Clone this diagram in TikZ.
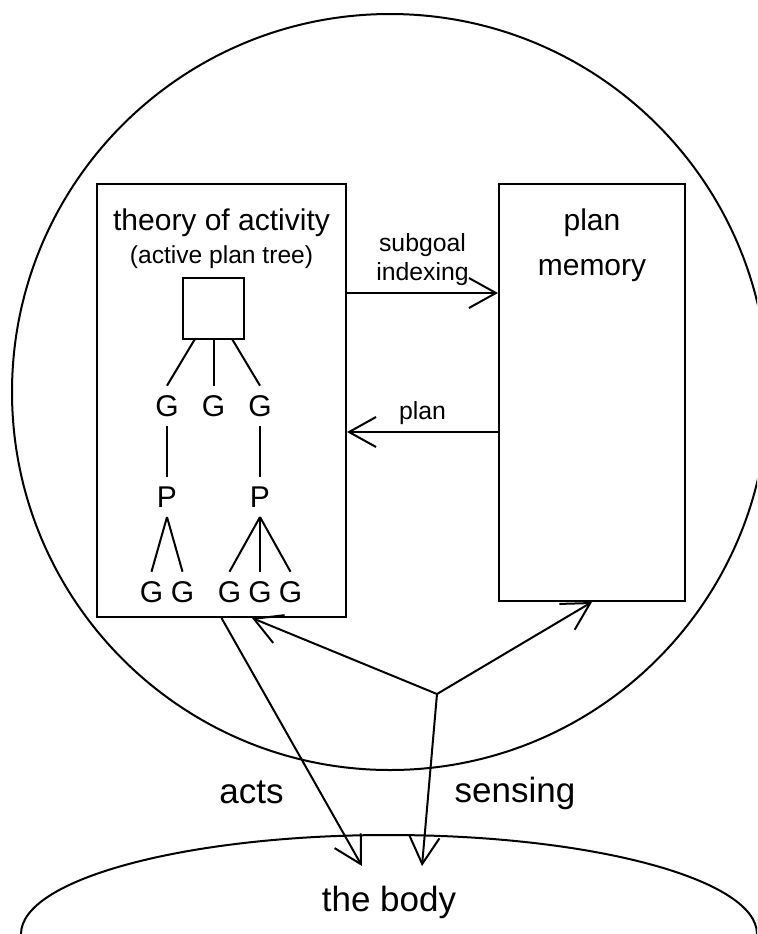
\documentclass[tikz,border=0pt]{standalone}
\usepackage{fontspec}
\setmainfont{Liberation Sans}
\usepackage{tikz}
\usetikzlibrary{arrows.meta,shapes.geometric}

\begin{document}
\begin{tikzpicture}[x=0.5pt,y=-0.5pt,line width=1pt,
  >={Straight Barb[length=13.5pt,width=15pt]},
  plan box/.style={rectangle,draw,inner sep=0pt},
  goal node/.style={inner sep=4.35pt,font=\fontsize{15}{18}\selectfont},
  head text/.style={anchor=base,inner sep=0pt,font=\fontsize{15}{18}\selectfont},
  small text/.style={align=center,font=\fontsize{12.4}{14.5}\selectfont},
  big text/.style={anchor=base,inner sep=0pt,font=\fontsize{17.5}{21}\selectfont}]

  \useasboundingbox (0,0) rectangle (757,934);
  \clip (0,0) rectangle (757,934);

  % agent and body
  \node[circle,draw,minimum size=378pt,inner sep=0pt] (agent) at (390,392) {};
  \node[ellipse,draw,minimum width=368pt,minimum height=99pt,inner sep=0pt] (body) at (389,934) {};
  \node[big text] (bodytxt) at (389,911) {the body};

  % the two boxes
  \node[plan box,minimum width=124.5pt,minimum height=216.5pt] (toa) at (221.5,400.5) {};
  \node[plan box,minimum width=93pt,minimum height=208.5pt] (pm) at (592,392.5) {};

  \node[head text] (toatitle) at (221.5,230) {theory of activity};
  \node[head text,font=\fontsize{12.3}{14}\selectfont] (toasub) at (221.5,263) {(active plan tree)};
  \node[head text] (pmtitle) at (592,230) {plan};
  \node[head text] (pmsub) at (592,275) {memory};

  % plan tree
  \node[draw,minimum size=30.5pt,inner sep=0pt] (root) at (213.5,308) {};
  \node[goal node] (g2) [node distance=49pt,below of=root] {G};
  \node[goal node] (g1) [node distance=23.25pt,left of=g2] {G};
  \node[goal node] (g3) [node distance=23.25pt,right of=g2] {G};
  \node[goal node] (p1) [node distance=45.5pt,below of=g1] {P};
  \node[goal node] (p2) [node distance=45.5pt,below of=g3] {P};
  \node[goal node] (b1) [node distance=47.5pt,below of=p1,xshift=-7.75pt] {G};
  \node[goal node] (b2) [node distance=47.5pt,below of=p1,xshift=7.75pt] {G};
  \node[goal node] (b4) [node distance=47.5pt,below of=p2] {G};
  \node[goal node] (b3) [node distance=15.25pt,left of=b4] {G};
  \node[goal node] (b5) [node distance=15.25pt,right of=b4] {G};

  \draw (root) -- (g1.north);
  \draw (root) -- (g2);
  \draw (root) -- (g3.north);
  \draw (g1) -- (p1);
  \draw (g3) -- (p2);
  \draw (p1.south) -- (b1.north);
  \draw (p1.south) -- (b2.north);
  \draw (p2.south) -- (b3.north);
  \draw (p2.south) -- (b4.north);
  \draw (p2.south) -- (b5.north);

  % between the boxes
  \draw[->] ([yshift=53.75pt]toa.east) -- ([yshift=53.75pt]toa.east -| pm.west)
    node[small text,above,midway] (sglbl) {subgoal\\indexing};
  \draw[->] ([yshift=-15.75pt]toa.east -| pm.west) -- ([yshift=-15.75pt]toa.east)
    node[small text,above,midway] (planlbl) {plan};

  % acts and sensing
  \coordinate (fork) at (437,694);
  \coordinate (acthit) at (362,866);
  \coordinate (sensehit) at (422,866);
  \draw[->] (toa.south) -- (acthit);
  \draw[->] (fork) -- ([xshift=15.25pt]toa.south);
  \draw[->] (fork) -- (pm.south);
  \draw[->] (fork) -- (sensehit);

  \node[big text] (actslbl) at (251.5,803) {acts};
  \node[big text] (senselbl) at (515,802) {sensing};

\end{tikzpicture}
\end{document}
